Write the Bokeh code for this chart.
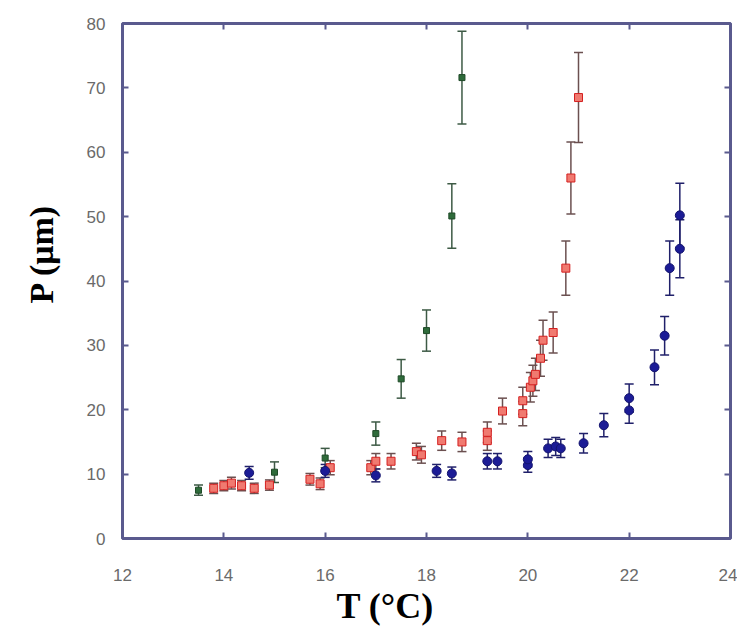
from bokeh.plotting import figure
from bokeh.models import (Range1d, LinearAxis, FixedTicker, ColumnDataSource, Whisker,
                          TeeHead, Title, CustomJSTickFormatter)
from bokeh.embed import file_html
from bokeh.resources import INLINE

# ---- data ----
green_T = [13.5, 15.0, 16.0, 17.0, 17.5, 18.0, 18.5, 18.7]
green_P = [7.5, 10.3, 12.5, 16.3, 24.8, 32.3, 50.1, 71.6]
green_err = [0.8, 1.6, 1.5, 1.8, 3.0, 3.2, 5.0, 7.2]

red_T = [13.8, 14.0, 14.15, 14.35, 14.6, 14.9, 15.7, 15.9, 16.1, 16.9, 17.0, 17.3,
         17.8, 17.9, 18.3, 18.7, 19.2, 19.2, 19.5, 19.9, 19.9, 20.05, 20.1, 20.15,
         20.25, 20.3, 20.5, 20.75, 20.85, 21.0]
red_P = [7.8, 8.2, 8.6, 8.2, 7.8, 8.3, 9.2, 8.5, 11.0, 11.0, 12.0, 12.0,
         13.5, 13.0, 15.2, 15.0, 15.2, 16.5, 19.8, 19.4, 21.4, 23.5, 24.5, 25.5,
         28.0, 30.8, 32.0, 42.0, 56.0, 68.5]
red_err = [0.8, 0.8, 0.9, 0.8, 0.8, 0.8, 0.9, 0.9, 1.1, 1.1, 1.2, 1.2,
           1.3, 1.3, 1.5, 1.5, 1.5, 1.6, 2.0, 1.9, 2.1, 2.3, 2.4, 2.5,
           2.8, 3.1, 3.2, 4.2, 5.6, 7.0]

blue_T = [14.5, 16.0, 17.0, 18.2, 18.5, 19.2, 19.4, 20.0, 20.0, 20.4, 20.55, 20.65,
          21.1, 21.5, 22.0, 22.0, 22.5, 22.7, 22.8, 23.0, 23.0]
blue_P = [10.2, 10.5, 9.8, 10.5, 10.1, 12.0, 12.0, 11.4, 12.3, 14.0, 14.3, 14.0,
          14.8, 17.6, 19.9, 21.8, 26.6, 31.5, 42.0, 50.2, 45.0]
blue_err = [1.0, 1.0, 1.0, 1.0, 1.0, 1.2, 1.2, 1.1, 1.2, 1.4, 1.4, 1.4,
            1.5, 1.8, 2.0, 2.2, 2.7, 3.0, 4.2, 5.0, 4.5]

x_ticks = [12, 14, 16, 18, 20, 22, 24]
y_ticks = [0, 10, 20, 30, 40, 50, 60, 70, 80]

frame_col = "#5a5a8e"
label_col = "#6a6a6a"

p = figure(width=737, height=631, output_backend="svg", toolbar_location=None,
           x_range=Range1d(12, 24), y_range=Range1d(0, 80),
           min_border_left=120, min_border_top=23, min_border_right=7, min_border_bottom=93)
p.xgrid.visible = False
p.ygrid.visible = False
p.outline_line_color = frame_col
p.outline_line_width = 3
p.background_fill_color = "white"

for ax in (p.xaxis[0], p.yaxis[0]):
    ax.axis_line_color = None
    ax.major_tick_in = 6
    ax.major_tick_out = 0
    ax.minor_tick_line_color = None
    ax.major_tick_line_color = frame_col
    ax.major_tick_line_width = 2
    ax.major_label_text_color = label_col
    ax.major_label_text_font = "Liberation Sans"
    ax.major_label_text_font_size = "17px"

p.xaxis[0].ticker = FixedTicker(ticks=x_ticks)
p.yaxis[0].ticker = FixedTicker(ticks=y_ticks)
p.xaxis[0].major_label_standoff = 30
p.yaxis[0].major_label_standoff = 17

for loc, ticks in (("above", x_ticks), ("right", y_ticks)):
    a = LinearAxis(ticker=FixedTicker(ticks=ticks),
                   formatter=CustomJSTickFormatter(code="return ''"))
    a.axis_line_color = None
    a.major_tick_in = 6
    a.major_tick_out = 0
    a.minor_tick_line_color = None
    a.major_tick_line_color = frame_col
    a.major_tick_line_width = 2
    a.major_label_standoff = 0
    p.add_layout(a, loc)

xt = Title(text="T (°C)", align="left", offset=214, standoff=0,
           text_font="Liberation Serif", text_font_style="bold",
           text_font_size="36px", text_color="black")
p.add_layout(xt, "below")
yt = Title(text="P (μm)", align="left", offset=235, standoff=44, vertical_align="top",
           text_font="Liberation Serif", text_font_style="bold",
           text_font_size="34px", text_color="black")
p.add_layout(yt, "left")


def series(T, P, err, bar_col, marker, size, fill, line):
    lower = [v - e for v, e in zip(P, err)]
    upper = [v + e for v, e in zip(P, err)]
    src = ColumnDataSource(dict(T=T, P=P, lower=lower, upper=upper))
    w = Whisker(source=src, base="T", lower="lower", upper="upper",
                line_color=bar_col, line_width=1.5,
                upper_head=TeeHead(size=9, line_color=bar_col, line_width=1.5),
                lower_head=TeeHead(size=9, line_color=bar_col, line_width=1.5))
    p.add_layout(w)
    p.scatter("T", "P", source=src, marker=marker, size=size,
              fill_color=fill, line_color=line, line_width=1)


series(green_T, green_P, green_err, "#3d5a45", "square", 6, "#2e6b3a", "#1f4a28")
series(red_T, red_P, red_err, "#6b5050", "square", 8, "#f07a70", "#d42020")
series(blue_T, blue_P, blue_err, "#20206a", "circle", 9, "#1c1c96", "#14146e")

open("out.html", "w").write(file_html(p, INLINE))
